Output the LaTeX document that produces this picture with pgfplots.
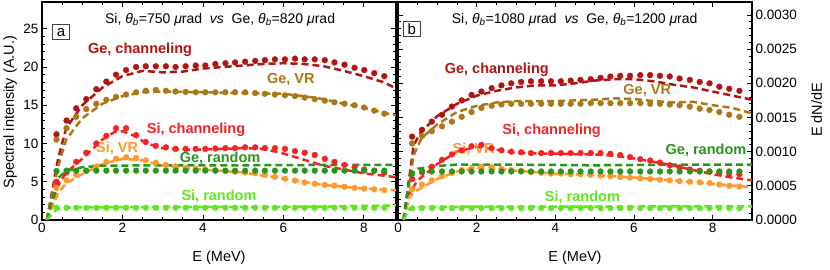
\documentclass[border=0pt]{standalone}
\usepackage{fontspec}
\setmainfont{Liberation Sans}
\usepackage{pgfplots}
\usepackage{pgfplotstable}
\pgfplotsset{compat=1.18}

\definecolor{gech}{RGB}{178,20,20}
\definecolor{gevr}{RGB}{172,120,22}
\definecolor{sich}{RGB}{245,35,35}
\definecolor{sivr}{RGB}{255,152,45}
\definecolor{gern}{RGB}{40,150,25}
\definecolor{sirn}{RGB}{95,232,30}

\pgfplotstableread{
x gech gevr sich sivr gern sirn
0.36 11.2 10.5 5.0 4.2 6.4 1.6
0.61 13.0 12.0 6.2 5.2 6.45 1.6
0.85 14.6 13.5 7.6 5.9 6.45 1.6
1.10 15.8 14.5 8.8 6.4 6.45 1.6
1.35 17.1 15.2 10.0 7.0 6.45 1.6
1.60 18.1 15.7 11.0 7.6 6.45 1.6
1.84 19.0 16.1 12.0 8.0 6.45 1.6
2.09 19.6 16.4 12.0 8.2 6.45 1.6
2.34 20.0 16.7 11.1 8.1 6.45 1.6
2.58 20.1 16.9 10.2 7.8 6.45 1.6
2.83 20.1 17.0 9.7 7.5 6.45 1.6
3.08 20.1 16.9 9.5 7.2 6.45 1.6
3.32 20.0 16.8 9.3 7.0 6.45 1.6
3.57 20.1 16.75 9.3 6.8 6.45 1.6
3.82 20.2 16.7 9.3 6.7 6.45 1.6
4.06 20.2 16.7 9.3 6.6 6.45 1.6
4.31 20.4 16.7 9.35 6.5 6.45 1.6
4.56 20.5 16.7 9.4 6.4 6.45 1.6
4.80 20.6 16.7 9.4 6.3 6.45 1.6
5.05 20.7 16.7 9.5 6.2 6.45 1.6
5.30 20.8 16.6 9.5 6.1 6.45 1.6
5.54 20.9 16.5 9.4 5.9 6.45 1.6
5.79 21.0 16.4 9.4 5.65 6.45 1.6
6.04 21.0 16.3 9.3 5.4 6.45 1.6
6.29 21.1 16.2 9.0 5.15 6.45 1.6
6.53 21.0 16.0 8.8 4.9 6.45 1.6
6.78 21.0 15.8 8.5 4.75 6.45 1.6
7.03 20.9 15.6 8.0 4.6 6.45 1.6
7.27 20.6 15.4 7.6 4.5 6.45 1.6
7.52 20.3 15.2 7.2 4.35 6.45 1.6
7.77 19.9 15.0 6.9 4.2 6.45 1.6
8.01 19.6 14.7 6.6 4.1 6.45 1.6
8.26 19.2 14.3 6.45 4.0 6.45 1.6
8.51 18.8 13.9 6.2 3.9 6.45 1.6
}\tabA

\pgfplotstableread{
x gech gevr sich sivr gern sirn
0.36 12.2 11.2 6.0 4.5 6.8 1.7
0.61 13.2 12.3 7.0 5.2 7.1 1.75
0.86 14.4 13.0 7.8 5.8 7.1 1.75
1.12 15.4 13.7 8.8 6.4 7.1 1.75
1.37 16.6 14.4 9.6 6.9 7.1 1.75
1.62 17.5 15.1 10.2 7.3 7.1 1.75
1.87 18.3 15.8 10.8 7.6 7.1 1.75
2.12 18.8 16.4 11.0 7.8 7.1 1.75
2.38 19.3 16.7 10.5 7.7 7.1 1.75
2.63 19.7 16.9 10.2 7.5 7.1 1.75
2.88 20.0 17.0 10.0 7.3 7.1 1.75
3.13 20.2 17.0 9.9 7.2 7.1 1.75
3.38 20.3 17.0 9.8 7.0 7.1 1.75
3.64 20.3 17.0 9.8 6.9 7.1 1.75
3.89 20.3 17.0 9.8 6.8 7.1 1.75
4.14 20.3 17.0 9.8 6.8 7.1 1.75
4.39 20.4 17.0 9.8 6.7 7.1 1.75
4.64 20.5 17.0 9.8 6.7 7.1 1.75
4.90 20.6 17.1 9.8 6.6 7.1 1.75
5.15 20.8 17.1 9.8 6.5 7.1 1.75
5.40 21.0 17.1 9.7 6.4 7.1 1.75
5.65 21.1 17.1 9.5 6.3 7.1 1.75
5.90 21.1 17.1 9.2 6.2 7.1 1.75
6.16 21.2 17.1 8.9 6.1 7.1 1.75
6.41 21.2 17.0 8.7 6.0 7.1 1.75
6.66 21.1 17.0 8.4 5.9 7.1 1.75
6.91 21.0 16.9 8.0 5.8 7.1 1.75
7.16 20.7 16.8 7.7 5.7 7.1 1.75
7.42 20.5 16.6 7.4 5.6 7.1 1.75
7.67 20.2 16.3 7.2 5.5 7.1 1.75
7.92 20.0 16.1 7.1 5.4 7.1 1.75
8.17 19.5 15.8 6.9 5.2 7.1 1.75
8.42 19.2 15.4 6.8 5.0 7.1 1.75
8.68 18.9 15.1 6.7 4.9 7.1 1.75
}\tabB

\pgfplotsset{
  panel/.style={
    width=354pt, height=218pt, scale only axis,
    xmin=0, ymin=0,
    axis line style={line width=1.2pt},
    tick style={black, line width=0.7pt},
    major tick length=5pt, minor tick length=3pt,
    tick align=inside, tick pos=both,
    xtick={0,2,4,6,8}, minor x tick num=3,
    minor y tick num=4,
    xticklabel pos=bottom,
    tick label style={font=\fontsize{13.5}{15}\selectfont},
    /pgf/number format/assume math mode=true,
    xlabel={E (MeV)},
    every axis x label/.style={at={(axis description cs:0.5,-0.174)}, anchor=center, font=\fontsize{14.5}{16}\selectfont},
  },
}
\tikzset{
  dl/.style={line width=2.5pt, dash pattern=on 7pt off 4pt},
  dt/.style={mark=*, mark size=2.9pt},
  lab/.style={font=\bfseries\fontsize{14.5}{16}\selectfont},
  box/.style={draw=black!75, line width=0.7pt, minimum width=17pt, minimum height=15pt, inner sep=0pt, font=\fontsize{15}{16}\selectfont},
  ttl/.style={font=\fontsize{14}{16}\selectfont},
}

\begin{document}
\begin{tikzpicture}
\begin{axis}[panel,
  xmax=8.8, ymax=28.5,
  ytick={0,5,10,15,20,25},
  yticklabel pos=left,
  ylabel={Spectral intensity (A.U.)},
  every axis y label/.style={at={(axis description cs:-0.09,0.495)}, rotate=90, anchor=center, font=\fontsize{14.5}{16}\selectfont},
]
\addplot[gech, dl, no marks] coordinates {(0.12,0) (0.4,8) (0.6,12) (1.0,15) (1.5,17.3) (2.0,18.8) (2.5,19.5) (3.0,19.3) (3.5,19.4) (4.0,19.8) (4.5,20.0) (5.0,20.2) (5.5,20.4) (6.0,20.5) (6.5,20.4) (7.0,20.1) (7.5,19.5) (8.0,18.8) (8.5,18.0) (8.8,17.2)};
\addplot[gevr, dl, no marks] coordinates {(0.12,0) (0.4,7) (0.6,10.5) (1.0,13.3) (1.5,15.2) (2.0,16.2) (2.5,16.7) (3.0,16.8) (4.0,16.7) (5.0,16.6) (6.0,16.5) (6.5,16.2) (7.0,15.8) (7.5,15.2) (8.0,14.7) (8.5,14.0) (8.8,13.7)};
\addplot[sich, dl, no marks] coordinates {(0.12,0) (0.4,4.5) (0.6,6.2) (1.0,8.0) (1.5,10.5) (1.8,11.5) (2.0,11.6) (2.3,11.0) (2.6,10.0) (3.0,9.4) (3.5,9.2) (4.0,9.2) (5.0,9.4) (5.5,9.3) (6.0,8.7) (6.5,7.9) (7.0,7.1) (7.5,6.6) (8.0,6.1) (8.5,5.8) (8.8,5.6)};
\addplot[sivr, dl, no marks] coordinates {(0.12,0) (0.4,3.5) (0.6,4.8) (1.0,6.0) (1.5,7.3) (2.0,8.0) (2.5,7.8) (3.0,7.1) (3.5,6.8) (4.0,6.6) (5.0,6.2) (6.0,5.4) (7.0,4.6) (8.0,4.1) (8.8,3.9)};
\addplot[gern, dl, no marks] coordinates {(0.12,0) (0.4,5.5) (0.6,6.4) (1.0,6.9) (1.5,7.1) (3.0,7.15) (5.0,7.15) (7.0,7.2) (8.8,7.2)};
\addplot[sirn, dl, no marks] coordinates {(0.12,0) (0.35,1.3) (0.5,1.6) (1.0,1.65) (3.0,1.7) (5.0,1.7) (7.0,1.75) (8.8,1.9)};
\addplot[gech, only marks, dt] table[x=x, y=gech] {\tabA};
\addplot[gevr, only marks, dt] table[x=x, y=gevr] {\tabA};
\addplot[sich, only marks, dt] table[x=x, y=sich] {\tabA};
\addplot[sivr, only marks, dt] table[x=x, y=sivr] {\tabA};
\addplot[gern, only marks, dt] table[x=x, y=gern] {\tabA};
\addplot[sirn, only marks, dt] table[x=x, y=sirn] {\tabA};
\node[ttl] at (rel axis cs:0.503,0.917) {Si, \textit{θ}\textsubscript{\textit{b}}=750 \textit{μ}rad\ \ \textit{vs}\ \ Ge, \textit{θ}\textsubscript{\textit{b}}=820 \textit{μ}rad};
\node[box] at (rel axis cs:0.054,0.862) {a};
\node[lab, text=gech] at (rel axis cs:0.277,0.780) {Ge, channeling};
\node[lab, text=gevr] at (rel axis cs:0.703,0.642) {Ge, VR};
\node[lab, text=sich] at (rel axis cs:0.435,0.413) {Si, channeling};
\node[lab, text=sivr] at (rel axis cs:0.212,0.330) {Si, VR};
\node[lab, text=gern] at (rel axis cs:0.503,0.284) {Ge, random};
\node[lab, text=sirn] at (rel axis cs:0.500,0.110) {Si, random};
\end{axis}

\begin{axis}[panel, at={(356pt,0pt)}, anchor=south west,
  xmax=9, ymax=31.9,
  ytick={0,5,10,15,20,25,30},
  yticklabels={0.0000,0.0005,0.0010,0.0015,0.0020,0.0025,0.0030},
  yticklabel pos=right,
  ylabel={E dN/dE},
  every axis y label/.style={at={(axis description cs:1.183,0.505)}, rotate=90, anchor=center, font=\fontsize{14.5}{16}\selectfont},
]
\addplot[gech, dl, no marks] coordinates {(0.14,0) (0.4,11) (0.6,13.0) (1.0,15.2) (1.5,17.0) (2.0,18.2) (2.5,18.9) (3.0,19.4) (3.5,19.7) (4.0,19.7) (4.5,20.0) (5.0,20.4) (5.5,20.6) (6.0,20.6) (6.5,20.3) (7.0,19.8) (7.5,19.4) (8.0,18.8) (8.5,18.2) (9.0,17.6)};
\addplot[gevr, dl, no marks] coordinates {(0.14,0) (0.4,9.5) (0.6,12.0) (1.0,14.0) (1.5,15.8) (2.0,16.7) (2.5,17.2) (3.0,17.4) (4.0,17.4) (5.0,17.6) (5.5,17.8) (6.0,17.7) (6.5,17.4) (7.0,17.2) (7.5,17.3) (8.0,16.8) (8.5,16.4) (9.0,15.6)};
\addplot[sich, dl, no marks] coordinates {(0.14,0) (0.3,4.0) (0.5,5.8) (0.8,7.2) (1.0,8.2) (1.5,10.0) (2.0,10.7) (2.5,10.3) (3.0,9.8) (4.0,9.7) (5.0,9.6) (5.5,9.4) (6.0,9.0) (6.5,8.5) (7.0,8.0) (7.5,7.3) (8.0,6.7) (8.5,6.2) (9.0,5.8)};
\addplot[sivr, dl, no marks] coordinates {(0.14,0) (0.3,3.5) (0.5,4.4) (1.0,6.0) (1.5,7.1) (2.0,7.6) (2.5,7.5) (3.0,7.2) (3.5,7.0) (4.0,6.8) (5.0,6.6) (6.0,6.2) (7.0,5.8) (8.0,5.3) (9.0,4.8)};
\addplot[gern, dl, no marks] coordinates {(0.14,0) (0.3,6.5) (0.5,7.5) (1.0,7.9) (1.5,8.1) (3.0,8.1) (5.0,8.0) (7.0,8.1) (9.0,8.1)};
\addplot[sirn, dl, no marks] coordinates {(0.14,0) (0.3,1.7) (0.5,1.9) (2.0,1.95) (5.0,1.95) (7.0,2.0) (9.0,2.0)};
\addplot[gech, only marks, dt] table[x=x, y=gech] {\tabB};
\addplot[gevr, only marks, dt] table[x=x, y=gevr] {\tabB};
\addplot[sich, only marks, dt] table[x=x, y=sich] {\tabB};
\addplot[sivr, only marks, dt] table[x=x, y=sivr] {\tabB};
\addplot[gern, only marks, dt] table[x=x, y=gern] {\tabB};
\addplot[sirn, only marks, dt] table[x=x, y=sirn] {\tabB};
\node[ttl] at (rel axis cs:0.499,0.917) {Si, \textit{θ}\textsubscript{\textit{b}}=1080 \textit{μ}rad\ \ \textit{vs}\ \ Ge, \textit{θ}\textsubscript{\textit{b}}=1200 \textit{μ}rad};
\node[box] at (rel axis cs:0.039,0.876) {b};
\node[lab, text=gech] at (rel axis cs:0.279,0.688) {Ge, channeling};
\node[lab, text=gevr] at (rel axis cs:0.704,0.596) {Ge, VR};
\node[lab, text=sich] at (rel axis cs:0.434,0.408) {Si, channeling};
\node[lab, text=sivr] at (rel axis cs:0.214,0.326) {Si, VR};
\node[lab, text=gern] at (rel axis cs:0.870,0.321) {Ge, random};
\node[lab, text=sirn] at (rel axis cs:0.521,0.106) {Si, random};
\end{axis}
\path[use as bounding box] (-42pt,-50pt) rectangle (788pt,220pt);
\end{tikzpicture}
\end{document}
